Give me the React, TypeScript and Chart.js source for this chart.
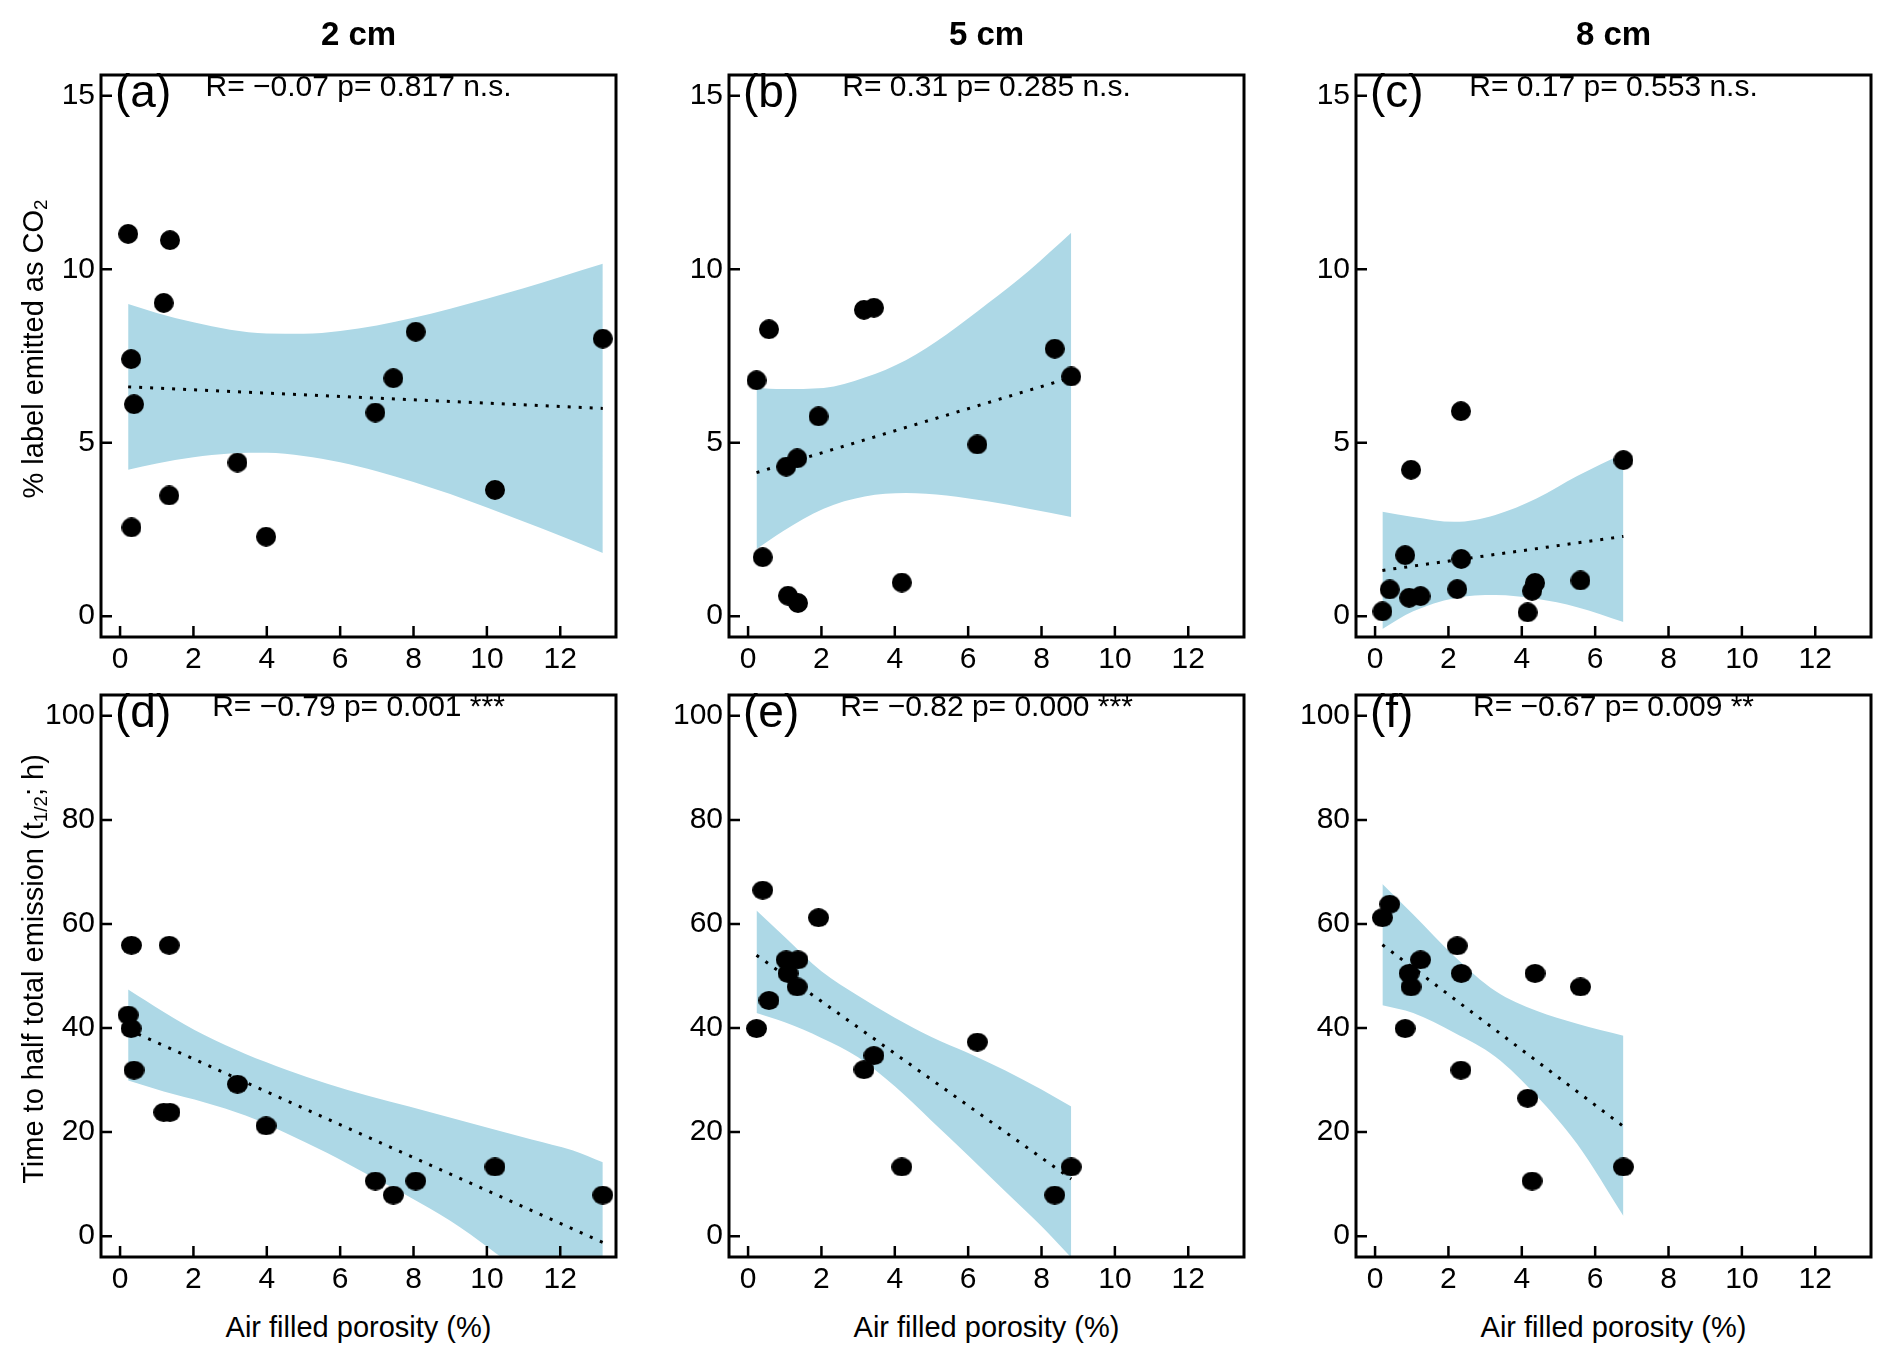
import React, { useEffect, useRef } from 'react';
import { Chart, registerables } from 'chart.js';

Chart.register(...registerables);

const FONT = '"Liberation Sans", Arial, Helvetica, sans-serif';
const BAND = '#ADD8E6';

// ---------- text ----------
const depthTitles = ['2 cm', '5 cm', '8 cm'];
const panelLetters = ['(a)', '(b)', '(c)', '(d)', '(e)', '(f)'];
const statLabels = [
  'R= \u22120.07 p= 0.817 n.s.',
  'R= 0.31 p= 0.285 n.s.',
  'R= 0.17 p= 0.553 n.s.',
  'R= \u22120.79 p= 0.001 ***',
  'R= \u22120.82 p= 0.000 ***',
  'R= \u22120.67 p= 0.009 **',
];
const xAxisTitle = 'Air filled porosity (%)';

// ---------- tick labels ----------
const xTickValues = [0, 2, 4, 6, 8, 10, 12];
const co2TickValues = [0, 5, 10, 15];
const halfTimeTickValues = [0, 20, 40, 60, 80, 100];

// ---------- observations ----------
// 2 cm depth
const porosity2 = [0.22, 0.30, 0.31, 0.38, 1.19, 1.34, 1.36, 3.20, 3.98, 6.96, 7.45, 8.06, 10.22, 13.16];
const co2Pct2 = [11.02, 7.41, 2.56, 6.11, 9.03, 3.48, 10.84, 4.43, 2.29, 5.87, 6.86, 8.20, 3.64, 8.00];
const halfTime2 = [42.5, 39.9, 55.9, 31.9, 23.8, 55.9, 23.8, 29.2, 21.2, 10.6, 7.9, 10.6, 13.3, 7.9];
// 5 cm depth
const porosity5 = [0.23, 0.40, 0.57, 1.04, 1.09, 1.34, 1.36, 1.92, 3.16, 3.43, 4.19, 6.25, 8.36, 8.81];
const co2Pct5 = [6.80, 1.70, 8.27, 4.31, 0.59, 4.55, 0.38, 5.76, 8.83, 8.89, 0.97, 4.95, 7.71, 6.91];
const halfTime5 = [39.9, 66.5, 45.3, 53.1, 50.5, 47.9, 53.1, 61.2, 32.0, 34.7, 13.3, 37.3, 7.9, 13.3];
// 8 cm depth
const porosity8 = [0.20, 0.40, 0.82, 0.93, 0.98, 1.24, 2.24, 2.34, 2.35, 4.16, 4.28, 4.36, 5.60, 6.77];
const co2Pct8 = [0.14, 0.77, 1.76, 0.53, 4.22, 0.58, 0.78, 5.91, 1.65, 0.11, 0.73, 0.96, 1.03, 4.50];
const halfTime8 = [61.2, 63.8, 39.9, 50.5, 47.9, 53.1, 55.8, 31.9, 50.5, 26.5, 10.6, 50.5, 47.9, 13.3];

// ---------- fitted lines (end points) ----------
const fitX_a = [0.22, 13.16]; const fitY_a = [6.61, 5.99];
const fitX_b = [0.23, 8.81]; const fitY_b = [4.14, 6.88];
const fitX_c = [0.20, 6.77]; const fitY_c = [1.32, 2.30];
const fitX_d = [0.22, 13.16]; const fitY_d = [39.7, -1.2];
const fitX_e = [0.23, 8.81]; const fitY_e = [54.0, 11.0];
const fitX_f = [0.20, 6.77]; const fitY_f = [56.0, 21.1];

// ---------- confidence bands (edges) ----------
const bandX_a = [0.22, 1, 2, 3, 4, 5, 6, 7, 8, 9, 10, 11, 12, 13.16];
const bandUp_a = [9.00, 8.74, 8.47, 8.26, 8.15, 8.14, 8.22, 8.38, 8.60, 8.86, 9.15, 9.45, 9.78, 10.16];
const bandLo_a = [4.22, 4.40, 4.58, 4.69, 4.71, 4.62, 4.44, 4.18, 3.87, 3.52, 3.13, 2.73, 2.32, 1.82];

const bandX_b = [0.23, 0.95, 2.06, 3.18, 4.30, 5.41, 6.53, 7.65, 8.81];
const bandUp_b = [6.58, 6.55, 6.58, 6.88, 7.38, 8.12, 9.01, 9.95, 11.05];
const bandLo_b = [1.94, 2.45, 3.10, 3.45, 3.55, 3.48, 3.31, 3.10, 2.86];

const bandX_c = [0.20, 1.04, 2.16, 3.28, 4.40, 5.51, 6.77];
const bandUp_c = [3.01, 2.86, 2.72, 2.92, 3.39, 4.04, 4.69];
const bandLo_c = [-0.37, 0.14, 0.52, 0.61, 0.50, 0.26, -0.17];

const bandX_d = [0.22, 1.19, 2.31, 3.42, 4.53, 5.65, 6.76, 7.88, 8.99, 10.10, 11.22, 12.33, 13.16];
const bandUp_d = [47.4, 43.1, 38.6, 35.0, 32.0, 29.3, 27.0, 24.9, 22.8, 20.7, 18.6, 16.5, 14.2];
const bandLo_d = [29.9, 27.8, 25.7, 23.2, 19.8, 16.0, 11.8, 7.6, 3.0, -2.5, -8.5, -14.5, -19.0];

const bandX_e = [0.23, 1, 2, 3, 4, 5, 6, 7, 8, 8.81];
const bandUp_e = [62.6, 57.5, 50.9, 46.2, 42.0, 38.3, 35.2, 31.9, 28.2, 24.9];
const bandLo_e = [42.9, 41.1, 38.1, 34.4, 28.8, 22.2, 15.5, 8.7, 1.9, -4.1];

const bandX_f = [0.20, 1.04, 2.16, 3.28, 4.40, 5.51, 6.77];
const bandUp_f = [67.7, 61.8, 53.8, 47.1, 43.3, 40.8, 38.5];
const bandLo_f = [44.4, 42.9, 39.1, 34.5, 27.0, 17.7, 3.9];

// ---------- axis ranges ----------
const X_MIN = -0.52, X_MAX = 13.52;
const CO2_MIN = -0.6, CO2_MAX = 15.6;
const HT_MIN = -4, HT_MAX = 104;

// ---------- layout ----------
const BOX_LEFTS = [101, 729, 1356];
const BOX_TOPS = [61, 681];
const BOX_W = 515;
const BOX_H = 576;
const AX_W = 66;   // room for y tick labels
const AX_H = 50;   // room for x tick labels
const PAD_T = 10;
const PAD_R = 10;

type Spec = {
  xs: number[]; ys: number[];
  fitX: number[]; fitY: number[];
  bandX: number[]; bandUp: number[]; bandLo: number[];
  yMin: number; yMax: number; yTicks: number[];
  row: number; col: number;
};

const specs: Spec[] = [
  { xs: porosity2, ys: co2Pct2, fitX: fitX_a, fitY: fitY_a, bandX: bandX_a, bandUp: bandUp_a, bandLo: bandLo_a, yMin: CO2_MIN, yMax: CO2_MAX, yTicks: co2TickValues, row: 0, col: 0 },
  { xs: porosity5, ys: co2Pct5, fitX: fitX_b, fitY: fitY_b, bandX: bandX_b, bandUp: bandUp_b, bandLo: bandLo_b, yMin: CO2_MIN, yMax: CO2_MAX, yTicks: co2TickValues, row: 0, col: 1 },
  { xs: porosity8, ys: co2Pct8, fitX: fitX_c, fitY: fitY_c, bandX: bandX_c, bandUp: bandUp_c, bandLo: bandLo_c, yMin: CO2_MIN, yMax: CO2_MAX, yTicks: co2TickValues, row: 0, col: 2 },
  { xs: porosity2, ys: halfTime2, fitX: fitX_d, fitY: fitY_d, bandX: bandX_d, bandUp: bandUp_d, bandLo: bandLo_d, yMin: HT_MIN, yMax: HT_MAX, yTicks: halfTimeTickValues, row: 1, col: 0 },
  { xs: porosity5, ys: halfTime5, fitX: fitX_e, fitY: fitY_e, bandX: bandX_e, bandUp: bandUp_e, bandLo: bandLo_e, yMin: HT_MIN, yMax: HT_MAX, yTicks: halfTimeTickValues, row: 1, col: 1 },
  { xs: porosity8, ys: halfTime8, fitX: fitX_f, fitY: fitY_f, bandX: bandX_f, bandUp: bandUp_f, bandLo: bandLo_f, yMin: HT_MIN, yMax: HT_MAX, yTicks: halfTimeTickValues, row: 1, col: 2 },
];

const toPts = (xs: number[], ys: number[]) => xs.map((x, i) => ({ x, y: ys[i] }));

function makeDot(w: number, h: number) {
  const c = document.createElement('canvas');
  c.width = w; c.height = h;
  const g = c.getContext('2d')!;
  g.fillStyle = '#000';
  g.beginPath();
  g.ellipse(w / 2, h / 2, w / 2, h / 2, 0, 0, Math.PI * 2);
  g.fill();
  return c;
}

const framePlugin = {
  id: 'frame',
  afterDraw(chart: any) {
    const { ctx, chartArea, scales } = chart;
    const { left, right, top, bottom } = chartArea;
    ctx.save();
    ctx.strokeStyle = '#000';
    ctx.lineWidth = 2.5;
    ctx.lineCap = 'butt';
    ctx.beginPath();
    for (const t of scales.x.ticks) {
      const px = scales.x.getPixelForValue(t.value);
      ctx.moveTo(px, bottom);
      ctx.lineTo(px, bottom - 11);
    }
    for (const t of scales.y.ticks) {
      const py = scales.y.getPixelForValue(t.value);
      ctx.moveTo(left, py);
      ctx.lineTo(left + 11, py);
    }
    ctx.stroke();
    ctx.lineWidth = 3;
    ctx.strokeRect(left, top, right - left, bottom - top);
    ctx.restore();
  },
};

function Panel({ spec }: { spec: Spec }) {
  const ref = useRef<HTMLCanvasElement>(null);
  const cw = AX_W + BOX_W + PAD_R;
  const ch = PAD_T + BOX_H + AX_H;
  useEffect(() => {
    const dot = spec.row === 0 ? makeDot(20, 20) : makeDot(21, 19);
    const tickFont = { size: 30, family: FONT };
    const chart = new Chart(ref.current as HTMLCanvasElement, {
      type: 'line',
      data: {
        datasets: [
          {
            label: 'observed',
            data: toPts(spec.xs, spec.ys),
            showLine: false,
            pointStyle: dot as any,
            pointRadius: 10,
            pointHoverRadius: 10,
            pointBackgroundColor: '#000',
            pointBorderWidth: 0,
            borderColor: '#000',
            order: 0,
          },
          {
            label: 'fit',
            data: toPts(spec.fitX, spec.fitY),
            borderColor: '#000',
            borderWidth: 3,
            borderDash: [3, 8],
            pointRadius: 0,
            fill: false,
            tension: 0,
            order: 1,
          },
          {
            label: 'ciUpper',
            data: toPts(spec.bandX, spec.bandUp),
            borderColor: 'rgba(0,0,0,0)',
            borderWidth: 0,
            pointRadius: 0,
            fill: '+1',
            backgroundColor: BAND,
            cubicInterpolationMode: 'monotone',
            order: 2,
          },
          {
            label: 'ciLower',
            data: toPts(spec.bandX, spec.bandLo),
            borderColor: 'rgba(0,0,0,0)',
            borderWidth: 0,
            pointRadius: 0,
            fill: false,
            cubicInterpolationMode: 'monotone',
            order: 3,
          },
        ] as any,
      },
      options: {
        animation: false,
        responsive: false,
        events: [],
        layout: { padding: { left: 0, top: PAD_T, right: PAD_R, bottom: 0 } },
        plugins: {
          legend: { display: false },
          tooltip: { enabled: false },
          title: { display: false },
        },
        scales: {
          x: {
            type: 'linear',
            min: X_MIN,
            max: X_MAX,
            grid: { display: false, drawTicks: false },
            border: { display: false },
            afterFit: (s: any) => { s.height = AX_H; },
            afterBuildTicks: (s: any) => { s.ticks = xTickValues.map((v) => ({ value: v })); },
            ticks: {
              padding: 5,
              color: '#000',
              font: tickFont,
              maxRotation: 0,
              autoSkip: false,
              callback: (v: any) => String(v),
            },
          },
          y: {
            type: 'linear',
            min: spec.yMin,
            max: spec.yMax,
            grid: { display: false, drawTicks: false },
            border: { display: false },
            afterFit: (s: any) => { s.width = AX_W; },
            afterBuildTicks: (s: any) => { s.ticks = spec.yTicks.map((v) => ({ value: v })); },
            ticks: {
              padding: 6,
              color: '#000',
              font: tickFont,
              autoSkip: false,
              callback: (v: any) => String(v),
            },
          },
        },
      } as any,
      plugins: [framePlugin],
    });
    return () => chart.destroy();
  }, [spec]);
  const left = BOX_LEFTS[spec.col] - AX_W;
  const top = BOX_TOPS[spec.row] - PAD_T;
  return (
    <canvas
      ref={ref}
      width={cw}
      height={ch}
      style={{ position: 'absolute', left, top, width: cw, height: ch }}
    />
  );
}

const centered: React.CSSProperties = {
  position: 'absolute',
  transform: 'translate(-50%, -50%)',
  whiteSpace: 'nowrap',
  lineHeight: 1,
};

const subStyle: React.CSSProperties = { fontSize: '0.65em', verticalAlign: '-0.25em', lineHeight: 0 };

export default function App() {
  return (
    <div
      style={{
        position: 'absolute', left: 0, top: 0, width: 1892, height: 1364,
        background: '#fff', color: '#000', fontFamily: FONT, overflow: 'hidden',
      }}
    >
      {specs.map((s, i) => <Panel key={i} spec={s} />)}

      {depthTitles.map((t, c) => (
        <div key={'dt' + c} style={{ ...centered, left: BOX_LEFTS[c] + BOX_W / 2, top: 33, fontSize: 33, fontWeight: 'bold' }}>{t}</div>
      ))}

      {specs.map((s, i) => (
        <div key={'pl' + i} style={{ position: 'absolute', left: BOX_LEFTS[s.col] + 14, top: BOX_TOPS[s.row] + 30, transform: 'translateY(-50%)', fontSize: 46, lineHeight: 1, whiteSpace: 'nowrap' }}>
          {panelLetters[i]}
        </div>
      ))}

      {specs.map((s, i) => (
        <div key={'st' + i} style={{ ...centered, left: BOX_LEFTS[s.col] + BOX_W / 2, top: BOX_TOPS[s.row] + 25, fontSize: 30 }}>
          {statLabels[i]}
        </div>
      ))}

      {[0, 1, 2].map((c) => (
        <div key={'xt' + c} style={{ ...centered, left: BOX_LEFTS[c] + BOX_W / 2, top: 1327, fontSize: 29 }}>{xAxisTitle}</div>
      ))}

      <div style={{ ...centered, left: 33, top: BOX_TOPS[0] + BOX_H / 2, fontSize: 29, transform: 'translate(-50%, -50%) rotate(-90deg)' }}>
        % label emitted as CO<sub style={subStyle}>2</sub>
      </div>
      <div style={{ ...centered, left: 33, top: BOX_TOPS[1] + BOX_H / 2, fontSize: 29, transform: 'translate(-50%, -50%) rotate(-90deg)' }}>
        Time to half total emission (t<sub style={subStyle}>1/2</sub>; h)
      </div>
    </div>
  );
}
